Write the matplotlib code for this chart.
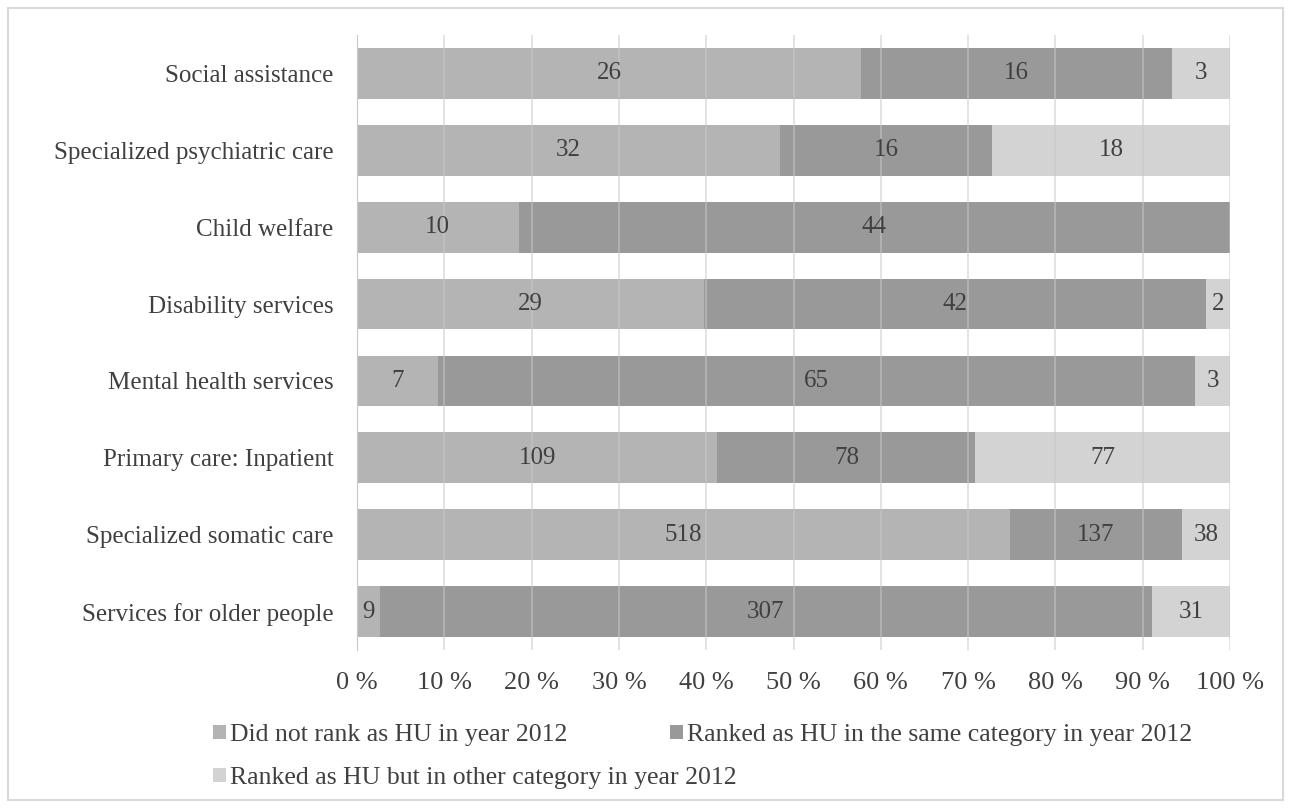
import numpy as np
import matplotlib.pyplot as plt
from matplotlib.patches import Rectangle

categories = ['Social assistance', 'Specialized psychiatric care', 'Child welfare',
              'Disability services', 'Mental health services', 'Primary care: Inpatient',
              'Specialized somatic care', 'Services for older people']
not_ranked = [26, 32, 10, 29, 7, 109, 518, 9]
same_cat = [16, 16, 44, 42, 65, 78, 137, 307]
other_cat = [3, 18, 0, 2, 3, 77, 38, 31]
series_names = ['Did not rank as HU in year 2012',
                'Ranked as HU in the same category in year 2012',
                'Ranked as HU but in other category in year 2012']
colors = ['#b4b4b4', '#999999', '#d3d3d3']
txt = '#404040'

plt.rcParams['font.family'] = ['Liberation Serif', 'DejaVu Serif']

fig = plt.figure(figsize=(12.91, 8.08), dpi=100)
ax = fig.add_axes([357 / 1291, 1 - 650 / 808, (1230 - 357) / 1291, 615 / 808])

data = np.array([not_ranked, same_cat, other_cat], dtype=float)
totals = data.sum(axis=0)
pct = data / totals * 100
y = np.arange(len(categories))
left = np.zeros(len(categories))
handles = []
for k in range(3):
    bars = ax.barh(y, pct[k], left=left, height=0.66, color=colors[k],
                   label=series_names[k], zorder=2)
    handles.append(bars)
    for i in range(len(categories)):
        if data[k, i] > 0:
            ax.text(left[i] + pct[k, i] / 2, y[i], '%d' % data[k, i], ha='center',
                    va='center', fontsize=18, color=txt, zorder=4)
    left += pct[k]

ax.set_ylim(len(categories) - 0.5, -0.5)
ax.set_xlim(0, 100)
ax.set_yticks(y)
ax.set_yticklabels(categories, fontsize=18, color=txt)
ax.set_xticks(np.arange(0, 101, 10))
ax.set_xticklabels(['%d %%' % v for v in range(0, 101, 10)], fontsize=19, color=txt)
ax.tick_params(axis='y', length=0, pad=17)
ax.tick_params(axis='x', length=0, pad=16)
ax.xaxis.grid(True, color='#c8c8c8', linewidth=1.2, alpha=0.6, zorder=3)
ax.set_axisbelow(False)
for s in ['top', 'right', 'bottom']:
    ax.spines[s].set_visible(False)
ax.spines['left'].set_color('#c8c8c8')

# legend entries placed one by one (Excel-like flow)
leg_pos = [(213, 735), (670, 735), (213, 778)]
for k in range(3):
    lx, ly = leg_pos[k]
    leg = fig.legend([handles[k]], [series_names[k]], loc='center left',
                     bbox_to_anchor=(lx / 1291, 1 - ly / 808), frameon=False,
                     fontsize=18.5, labelcolor=txt, handlelength=0.5,
                     handleheight=0.5, handletextpad=0.15, borderaxespad=0,
                     borderpad=0)

fig.patches.append(Rectangle((8 / 1291, 8 / 808), 1 - 16 / 1291, 1 - 16 / 808,
                             transform=fig.transFigure, fill=False,
                             edgecolor='#d9d9d9', linewidth=1.5))

fig.savefig('out.png', dpi=100)
